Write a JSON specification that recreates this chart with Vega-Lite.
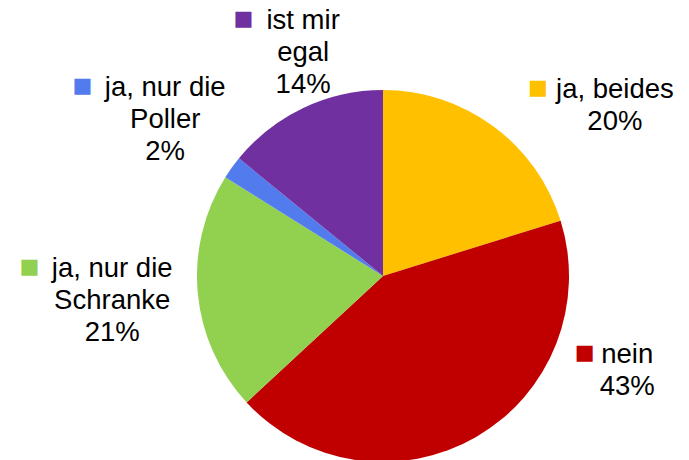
{
  "$schema": "https://vega.github.io/schema/vega-lite/v6.json",
  "autosize": "none",
  "width": 372,
  "height": 372,
  "padding": {"left": 197, "top": 90, "right": 120, "bottom": 0},
  "background": "white",
  "view": {"stroke": null},
  "data": {
    "values": [
      {"idx": 1, "answer": "ja, beides", "label": "ja, beides\n20%", "value": 20.2},
      {"idx": 2, "answer": "nein", "label": "nein\n43%", "value": 42.9},
      {"idx": 3, "answer": "ja, nur die Schranke", "label": "ja, nur die\nSchranke\n21%", "value": 20.8},
      {"idx": 4, "answer": "ja, nur die Poller", "label": "ja, nur die\nPoller\n2%", "value": 2.0},
      {"idx": 5, "answer": "ist mir egal", "label": "ist mir\negal\n14%", "value": 14.1}
    ]
  },
  "encoding": {
    "theta": {"field": "value", "type": "quantitative", "stack": true},
    "order": {"field": "idx", "type": "quantitative"},
    "color": {
      "field": "answer",
      "type": "nominal",
      "scale": {
        "domain": ["ja, beides", "nein", "ja, nur die Schranke", "ja, nur die Poller", "ist mir egal"],
        "range": ["#FFC000", "#C00000", "#92D050", "#527BEE", "#7030A0"]
      },
      "legend": null
    }
  },
  "layer": [
    {"mark": {"type": "arc", "stroke": null}},
    {
      "mark": {
        "type": "text",
        "font": "DejaVu Sans",
        "fontSize": 21,
        "align": "center",
        "baseline": "middle",
        "radius": 268,
        "dx": {"expr": "(datum.answer == 'ja, beides' ? 73 : datum.answer == 'nein' ? 110 : datum.answer == 'ja, nur die Schranke' ? -4 : datum.answer == 'ist mir egal' ? 35 : 0) - (length(split(datum.label, '\\n')[0]) * 5.75 + 19.5)"},
        "dy": {"expr": "(datum.answer == 'ja, beides' ? 46 : datum.answer == 'nein' ? -137 : datum.answer == 'ist mir egal' ? 19 : 0) - ((length(split(datum.label, '\\n')) - 1) * 16 + 1.8)"}
      },
      "encoding": {"text": {"value": "■"}}
    },
    {
      "mark": {
        "type": "text",
        "font": "Liberation Sans",
        "fontSize": 27.5,
        "lineHeight": 32,
        "lineBreak": "\n",
        "align": "center",
        "baseline": "middle",
        "color": "black",
        "radius": 268,
        "dx": {"expr": "datum.answer == 'ja, beides' ? 73 : datum.answer == 'nein' ? 110 : datum.answer == 'ja, nur die Schranke' ? -4 : datum.answer == 'ist mir egal' ? 35 : 0"},
        "dy": {"expr": "(datum.answer == 'ja, beides' ? 46 : datum.answer == 'nein' ? -137 : datum.answer == 'ist mir egal' ? 19 : 0) - (length(split(datum.label, '\\n')) - 1) * 16"}
      },
      "encoding": {
        "text": {"field": "label", "type": "nominal"},
        "detail": {"field": "answer", "type": "nominal"},
        "color": {"value": "black"}
      }
    }
  ]
}
